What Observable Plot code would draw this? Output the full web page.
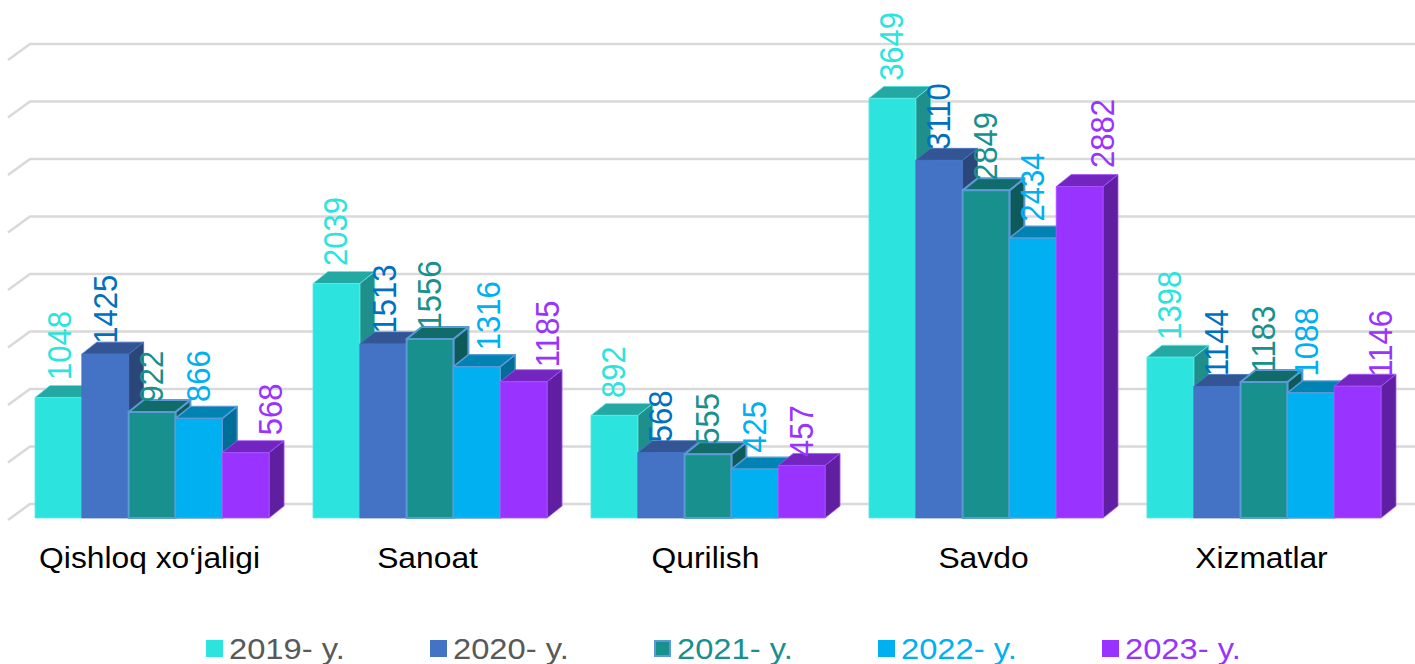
<!DOCTYPE html>
<html>
<head>
<meta charset="utf-8">
<script src="https://cdn.jsdelivr.net/npm/d3@7"></script>
<script src="https://cdn.jsdelivr.net/npm/@observablehq/plot@0.6"></script>
<style>
  html, body { margin: 0; padding: 0; background: #fff; }
  body { width: 1415px; height: 664px; overflow: hidden; font-family: "Liberation Sans", Arial, sans-serif; }
  #legend { position: relative; height: 39px; display: flex; padding-left: 206px; align-items: center; }
  .item { width: 224px; display: flex; align-items: center; font-size: 30px; line-height: 39px; margin-top: 8px; white-space: nowrap; }
  .item .t { display: inline-block; transform: scaleX(1.09); transform-origin: left center; }
  .sw { width: 17px; height: 17px; margin-right: 6px; box-sizing: border-box; flex: none; }
</style>
</head>
<body>
<div id="chart"></div>
<div id="legend"></div>
<script>
const categories = ["Qishloq xo‘jaligi", "Sanoat", "Qurilish", "Savdo", "Xizmatlar"];
const years = ["2019- y.", "2020- y.", "2021- y.", "2022- y.", "2023- y."];
const values2019 = [1048, 2039, 892, 3649, 1398];
const values2020 = [1425, 1513, 568, 3110, 1144];
const values2021 = [922, 1556, 555, 2849, 1183];
const values2022 = [866, 1316, 425, 2434, 1088];
const values2023 = [568, 1185, 457, 2882, 1146];
const gridTicks = [0, 500, 1000, 1500, 2000, 2500, 3000, 3500, 4000];

const fillColors = ["#2ce3dd", "#4472c4", "#17908e", "#00b0f0", "#9933ff"];
const topColors = ["#23a8a4", "#335593", "#116b6a", "#0083b3", "#7325bf"];
const sideColors = ["#1f8f8b", "#2b4779", "#0e5a59", "#006e96", "#5f1fa0"];
const labelColors = ["#2ce3dd", "#0070c0", "#17908e", "#00b0f0", "#9933ff"];
const legendTextColors = ["#595959", "#595959", "#17908e", "#00b0f0", "#9933ff"];
const strokeColors = ["#5fe8e3", "#4472c4", "#5b9bd5", "#5b9bd5", "#a855ff"];
const strokeWidths = [0.8, 0.8, 2, 1.4, 0.8];
const labelGaps = [18, 11, 10, 17, 18];
// Data labels that the reference moved by hand: [series, category, dx, dy]
const labelNudges = [
  [4, 0, 25, 0], [4, 1, 24, 3], [4, 2, 0, 9], [4, 3, 23, -1], [4, 4, 23, 8],
  [3, 1, 12, 0], [3, 4, -4, 0], [0, 0, 2, 0], [1, 0, 1, 0], [1, 1, 2, 0]
];

const series = [values2019, values2020, values2021, values2022, values2023];
const rows = series.flatMap((vals, s) =>
  vals.map((value, c) => ({ category: categories[c], year: years[s], s, c, value })));

const width = 1415, height = 625;
const barDepthX = 15, barDepthY = 12;
const gridDepthX = 22, gridDepthY = 16, gridFloorOffset = 2;
const textStretch = 1.06;
const fontFamily = '"Liberation Sans", Arial, sans-serif';

function renderGrid(index, scales, values, dimensions) {
  const g = d3.create("svg:g").attr("fill", "none").attr("stroke", "#d9d9d9").attr("stroke-width", 2.5);
  const backX = dimensions.marginLeft - 5;
  for (const v of gridTicks) {
    const yFront = scales.y(v) + gridFloorOffset;
    const yBack = yFront - gridDepthY;
    g.append("path").attr("d",
      `M${backX - gridDepthX},${yFront}L${backX},${yBack}L${dimensions.width},${yBack}`);
  }
  return g.node();
}

function renderBars(index, scales, values) {
  const g = d3.create("svg:g");
  const w = scales.x.bandwidth();
  for (const i of index) {
    const d = rows[i];
    const x0 = values.x[i], x1 = x0 + w;
    const yTop = scales.y(d.value), yBase = scales.y(0);
    const bar = g.append("g")
      .attr("stroke", strokeColors[d.s])
      .attr("stroke-width", strokeWidths[d.s])
      .attr("stroke-linejoin", "round");
    bar.append("path").attr("fill", sideColors[d.s]).attr("d",
      `M${x1},${yTop}L${x1 + barDepthX},${yTop - barDepthY}L${x1 + barDepthX},${yBase - barDepthY}L${x1},${yBase}Z`);
    bar.append("path").attr("fill", topColors[d.s]).attr("d",
      `M${x0},${yTop}L${x0 + barDepthX},${yTop - barDepthY}L${x1 + barDepthX},${yTop - barDepthY}L${x1},${yTop}Z`);
    bar.append("rect").attr("fill", fillColors[d.s])
      .attr("x", x0).attr("y", yTop).attr("width", w).attr("height", yBase - yTop);
  }
  return g.node();
}

// The reference's text is slightly stretched horizontally on screen.
const stretchText = scale => (index, scales, values, dimensions, context, next) => {
  const g = next(index, scales, values, dimensions, context);
  g.querySelectorAll("text").forEach(t =>
    t.setAttribute("transform", `${t.getAttribute("transform") || ""} ${scale}`));
  return g;
};

const labelMark = row => {
  const nudge = labelNudges.find(n => n[0] === row.s && n[1] === row.c) || [row.s, row.c, 0, 0];
  return Plot.text([row], {
    fx: "category", x: "year", y: "value", text: d => String(d.value),
    rotate: -90, textAnchor: "start", fill: labelColors[row.s],
    fontSize: 31, dx: nudge[2], dy: nudge[3] - labelGaps[row.s],
    render: stretchText(`scale(1,${textStretch})`)
  });
};

const chart = Plot.plot({
  width, height,
  marginLeft: 35, marginRight: 34, marginTop: 58, marginBottom: height - 518,
  style: { fontFamily, background: "#fff", overflow: "visible" },
  fx: { domain: categories, paddingInner: 0.158, paddingOuter: 0, round: false, label: null },
  x: { domain: years, padding: 0, round: false, axis: null },
  y: { domain: [0, 4000], axis: null },
  marks: [
    Plot.frame({ facet: "super", render: renderGrid }),
    Plot.barY(rows, { fx: "category", x: "year", y: "value", render: renderBars }),
    ...rows.map(labelMark),
    Plot.axisFx({ anchor: "bottom", tickSize: 0, tickPadding: 28, fontSize: 30, fill: "#000", label: null, dx: -3,
      render: stretchText(`scale(${textStretch},1)`) })
  ]
});
document.getElementById("chart").appendChild(chart);

const legend = document.getElementById("legend");
years.forEach((year, s) => {
  const item = document.createElement("div");
  item.className = "item";
  const sw = document.createElement("span");
  sw.className = "sw";
  sw.style.background = fillColors[s];
  if (s === 2) sw.style.border = "2px solid #5b9bd5";
  const t = document.createElement("span");
  t.className = "t";
  t.textContent = year;
  t.style.color = legendTextColors[s];
  item.append(sw, t);
  legend.append(item);
});
</script>
</body>
</html>
